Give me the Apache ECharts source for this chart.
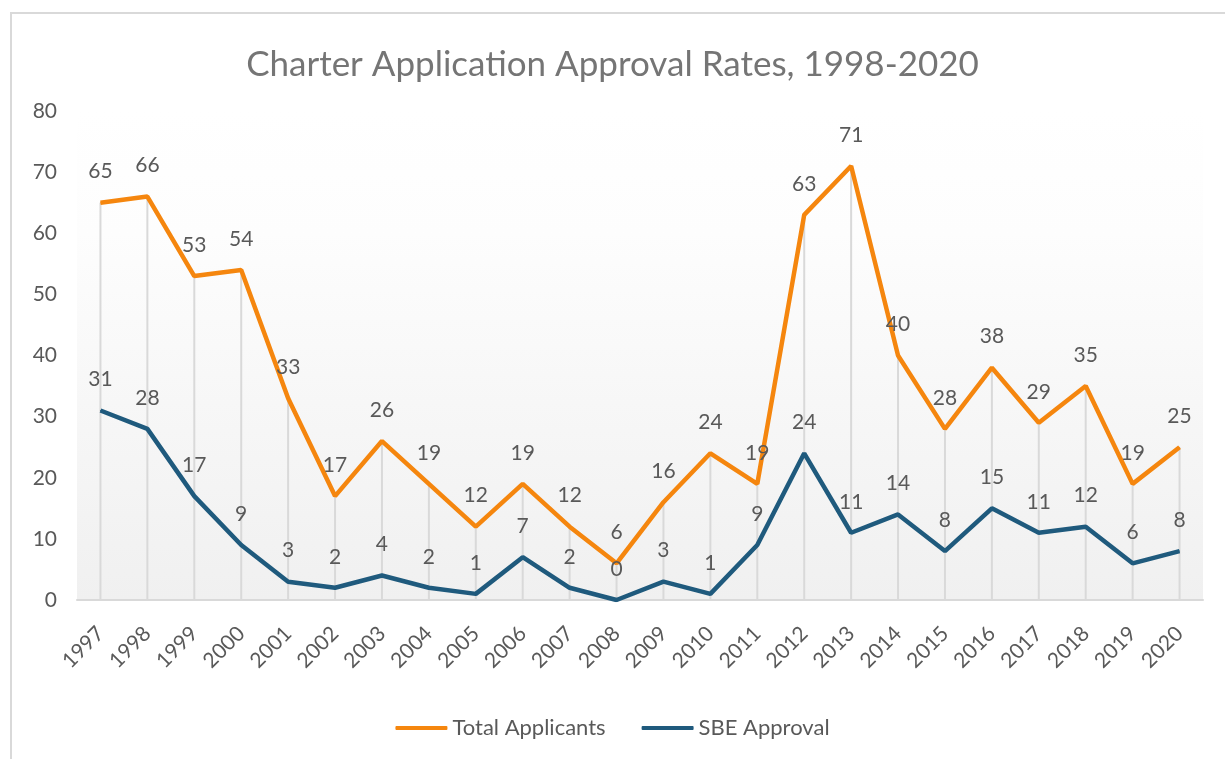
<!DOCTYPE html>
<html>
<head>
<meta charset="utf-8">
<script src="https://cdn.jsdelivr.net/npm/echarts@6/dist/echarts.min.js"></script>
<style>
  html, body { margin: 0; padding: 0; background: #fff; }
  .frame {
    position: absolute; left: 10px; top: 12px; right: 0; bottom: 0;
    border-left: 2px solid #d9d9d9; border-top: 2px solid #d9d9d9;
  }
  #chart { position: absolute; left: 0; top: 0; width: 1225px; height: 759px; }
</style>
</head>
<body>
<div class="frame"></div>
<div id="chart"></div>
<script>
const years = ['1997', '1998', '1999', '2000', '2001', '2002', '2003', '2004', '2005', '2006', '2007', '2008',
  '2009', '2010', '2011', '2012', '2013', '2014', '2015', '2016', '2017', '2018', '2019', '2020']
const totalApplicants = [65, 66, 53, 54, 33, 17, 26, 19, 12, 19, 12, 6, 16, 24, 19, 63, 71, 40, 28, 38, 29, 35, 19, 25]
const sbeApproval = [31, 28, 17, 9, 3, 2, 4, 2, 1, 7, 2, 0, 3, 1, 9, 24, 11, 14, 8, 15, 11, 12, 6, 8]
const yTicks = { min: 0, max: 80, interval: 10 }

const font = 'Lato, "Noto Sans", sans-serif'
const textColor = '#595959'

const chart = echarts.init(document.getElementById('chart'))

// drop lines go from the higher value down to the axis
const dropLines = totalApplicants.map((v, i) => Math.max(v, sbeApproval[i]))

const pointLabel = {
  show: true,
  position: 'top',
  distance: 20,
  fontSize: 21,
  color: textColor,
  fontFamily: font
}

chart.setOption({
  animation: false,
  textStyle: { fontFamily: font },
  title: {
    text: 'Charter Application Approval Rates, 1998-2020',
    left: 'center',
    top: 42,
    textStyle: { fontFamily: font, fontSize: 35, fontWeight: 'normal', color: '#757575' }
  },
  legend: {
    bottom: 15,
    left: 'center',
    itemWidth: 52,
    itemHeight: 4,
    itemGap: 36,
    icon: 'roundRect',
    textStyle: { fontFamily: font, fontSize: 22, color: textColor },
    data: ['Total Applicants', 'SBE Approval']
  },
  grid: {
    left: 77,
    right: 22,
    top: 111,
    bottom: 159,
    show: true,
    borderWidth: 0,
    backgroundColor: new echarts.graphic.LinearGradient(0, 0, 0, 1, [
      { offset: 0, color: '#ffffff' },
      { offset: 0.25, color: '#fdfdfd' },
      { offset: 1, color: '#f0f0f0' }
    ])
  },
  xAxis: {
    type: 'category',
    data: years,
    boundaryGap: true,
    axisLine: { lineStyle: { color: '#d9d9d9', width: 2 } },
    axisTick: { show: false },
    axisLabel: {
      rotate: 45,
      fontSize: 21,
      color: textColor,
      margin: 30,
      interval: 0,
      fontFamily: font
    }
  },
  yAxis: {
    type: 'value',
    min: yTicks.min,
    max: yTicks.max,
    interval: yTicks.interval,
    axisLine: { show: false },
    axisTick: { show: false },
    splitLine: { show: false },
    axisLabel: { fontSize: 21, color: textColor, margin: 20, fontFamily: font }
  },
  series: [
    {
      name: 'drop',
      type: 'bar',
      data: dropLines,
      barWidth: 2,
      itemStyle: { color: '#d9d9d9' },
      silent: true,
      z: 1,
      legendHoverLink: false
    },
    {
      name: 'Total Applicants',
      type: 'line',
      data: totalApplicants,
      symbol: 'circle',
      symbolSize: 1,
      showSymbol: true,
      lineStyle: { color: '#F5860E', width: 4.5 },
      itemStyle: { color: '#F5860E' },
      z: 3,
      label: pointLabel
    },
    {
      name: 'SBE Approval',
      type: 'line',
      data: sbeApproval,
      symbol: 'circle',
      symbolSize: 1,
      showSymbol: true,
      lineStyle: { color: '#1F5A7D', width: 4.5 },
      itemStyle: { color: '#1F5A7D' },
      z: 3,
      label: pointLabel
    }
  ]
})
</script>
</body>
</html>
